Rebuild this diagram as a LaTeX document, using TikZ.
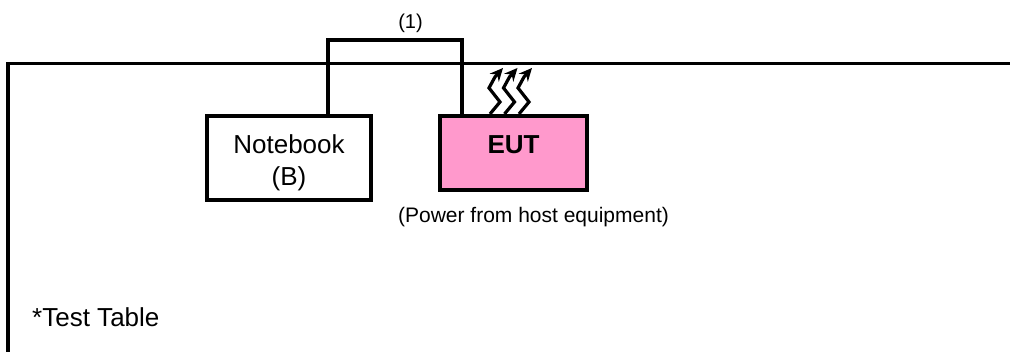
\documentclass[tikz,border=0pt]{standalone}
\usepackage{fontspec}
\usetikzlibrary{arrows.meta}
\setmainfont{Liberation Sans}
\definecolor{eutpink}{RGB}{255,153,204}
\begin{document}
\begin{tikzpicture}[x=1pt,y=-1pt]
\tikzstyle{wire}= [line width=3.6pt,line join=miter]
\tikzstyle{bb}= [rectangle,draw,line width=4pt,minimum width=164pt,minimum height=84pt]
\tikzstyle{heat}= [line width=3.2pt,-{Stealth[length=13pt,width=12pt]}]
\tikzstyle{lbl}= [inner sep=0pt,align=center,font=\fontsize{26}{32}\selectfont]
\tikzstyle{small}= [inner sep=0pt,anchor=base,font=\fontsize{21}{25}\selectfont]

\useasboundingbox (0,0) rectangle (1010,351);

\coordinate (tablebl) at (8,353);
\coordinate (tabletl) at (8,63.5);
\coordinate (tabletr) at (1012,63.5);
\draw[wire] (tablebl) -- (tabletl) -- (tabletr);

\path
	(289,158) node[bb] (notebook) {}
	(513.5,153.2) node[bb,fill=eutpink,minimum width=147pt,minimum height=74.5pt] (eut) {}
;
\draw[wire] ([xshift=39pt]notebook.north) |- (328,40) -| ([xshift=-51.5pt]eut.north);

\foreach \i in {0,1,2} {
	\coordinate (heat\i) at ([xshift=\i*14.5pt-23.5pt]eut.north);
	\draw[heat] (heat\i) -- ++(10,-12) -- ++(-11,-14) -- ++(6,-11) -- ++(8,-9);
}

\node[lbl,below=20pt] (notebooklbl) at (notebook.north) {Notebook\\(B)};
\node[lbl,below=21pt] (eutlbl) at (eut.north) {\textbf{EUT}};
\node[small,font=\fontsize{20}{24}\selectfont] (cablelbl) at (410.5,28) {(1)};
\node[small] (powerlbl) at (533.5,222.5) {(Power from host equipment)};
\node[lbl,anchor=base west] (tablelbl) at (32,326) {*Test Table};
\end{tikzpicture}
\end{document}
